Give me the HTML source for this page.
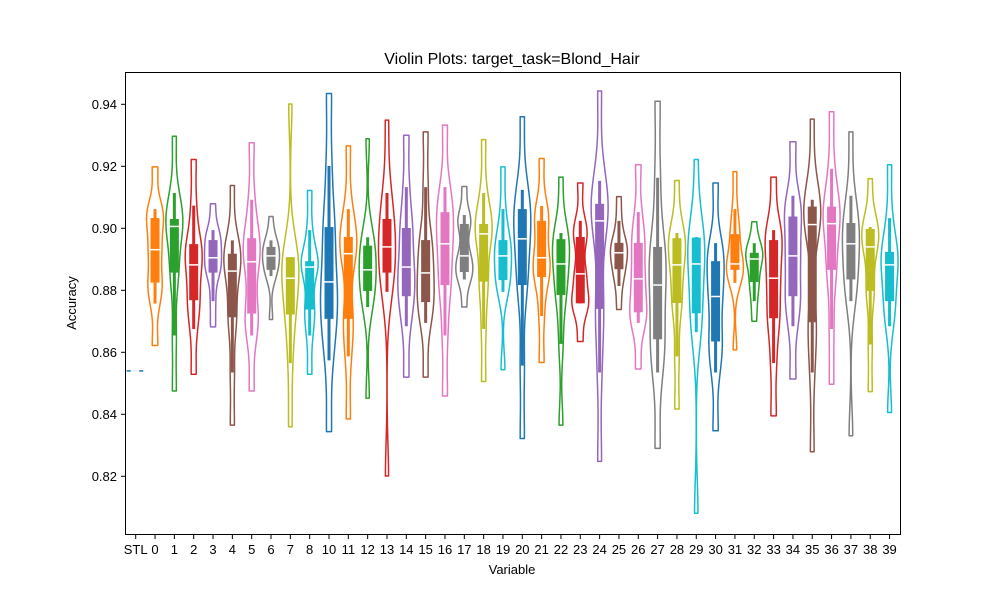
<!DOCTYPE html>
<html><head><meta charset="utf-8"><style>
body{margin:0;background:#fff}
svg{display:block;font-family:"Liberation Sans","DejaVu Sans",sans-serif}
</style></head><body>
<svg id="chart" width="1000" height="600" viewBox="0 0 1000 600">
<rect x="0" y="0" width="1000" height="600" fill="#fff"/>
<text x="512" y="64" text-anchor="middle" font-size="16" fill="#000">Violin Plots: target_task=Blond_Hair</text>
<g id="plot"></g>
<rect x="125.5" y="72.5" width="775" height="462" fill="none" stroke="#000" stroke-width="1"/>
<g id="yaxis"></g>
<g id="xaxis"></g>
<text x="0" y="0" transform="translate(76,303) rotate(-90)" text-anchor="middle" font-size="13" fill="#000">Accuracy</text>
<text x="512" y="574" text-anchor="middle" font-size="13" fill="#000">Variable</text>
</svg>
<script>
const categories = ["0","1","2","3","4","5","6","7","8","10","11","12","13","14","15","16","17","18","19","20","21","22","23","24","25","26","27","28","29","30","31","32","33","34","35","36","37","38","39"];
const stlValue = 0.854;
const tops =    [0.9198,0.9297,0.9222,0.9079,0.9138,0.9276,0.9038,0.9401,0.9122,0.9435,0.9266,0.9289,0.9349,0.9300,0.9311,0.9333,0.9135,0.9286,0.9198,0.9360,0.9225,0.9165,0.9146,0.9443,0.9102,0.9205,0.9410,0.9154,0.9222,0.9146,0.9183,0.9021,0.9165,0.9279,0.9352,0.9376,0.9311,0.9160,0.9205];
const whiskHi = [0.9062,0.9114,0.9073,0.8994,0.8961,0.9092,0.8961,0.8907,0.8994,0.9201,0.9062,0.8971,0.9114,0.9133,0.9133,0.9133,0.9043,0.9114,0.9062,0.9124,0.9072,0.8985,0.9024,0.9153,0.9024,0.9052,0.9163,0.8985,0.8972,0.8952,0.9062,0.8952,0.8994,0.9105,0.9092,0.9192,0.9105,0.9004,0.9033];
const q3s =     [0.9033,0.9030,0.8949,0.8962,0.8918,0.8968,0.8940,0.8907,0.8894,0.9004,0.8972,0.8944,0.9030,0.9001,0.8962,0.9052,0.9014,0.9014,0.8962,0.9062,0.9024,0.8965,0.8972,0.9079,0.8953,0.8953,0.8940,0.8968,0.8970,0.8894,0.8981,0.8921,0.8962,0.9038,0.9070,0.9070,0.9017,0.8998,0.8924];
const medians = [0.8931,0.9006,0.8882,0.8905,0.8862,0.8892,0.8911,0.8839,0.8875,0.8827,0.8918,0.8866,0.8940,0.8875,0.8856,0.8950,0.8911,0.8982,0.8911,0.8966,0.8905,0.8885,0.8853,0.9024,0.8921,0.8837,0.8817,0.8882,0.8885,0.8780,0.8885,0.8901,0.8839,0.8911,0.9012,0.9015,0.8950,0.8940,0.8882];
const q1s =     [0.8825,0.8857,0.8768,0.8857,0.8713,0.8725,0.8866,0.8722,0.8738,0.8708,0.8708,0.8798,0.8857,0.8781,0.8762,0.8817,0.8859,0.8828,0.8833,0.8817,0.8843,0.8785,0.8758,0.8740,0.8868,0.8729,0.8642,0.8759,0.8726,0.8635,0.8866,0.8827,0.8710,0.8781,0.8697,0.8866,0.8835,0.8798,0.8765];
const whiskLo = [0.8757,0.8654,0.8675,0.8765,0.8535,0.8654,0.8846,0.8565,0.8654,0.8574,0.8587,0.8746,0.8795,0.8684,0.8695,0.8654,0.8835,0.8675,0.8795,0.8557,0.8717,0.8627,0.8758,0.8535,0.8814,0.8695,0.8535,0.8587,0.8665,0.8535,0.8824,0.8765,0.8565,0.8684,0.8535,0.8675,0.8765,0.8625,0.8684];
const bottoms = [0.8622,0.8475,0.8529,0.8682,0.8365,0.8475,0.8706,0.8360,0.8529,0.8344,0.8385,0.8452,0.8201,0.8520,0.8520,0.8459,0.8746,0.8506,0.8544,0.8322,0.8567,0.8365,0.8635,0.8248,0.8738,0.8546,0.8290,0.8417,0.8081,0.8347,0.8608,0.8700,0.8395,0.8514,0.8279,0.8497,0.8331,0.8473,0.8406];
const yTicks = [0.82,0.84,0.86,0.88,0.90,0.92,0.94];
const palette = ["#1f77b4","#ff7f0e","#2ca02c","#d62728","#9467bd","#8c564b","#e377c2","#7f7f7f","#bcbd22","#17becf"];

const NS="http://www.w3.org/2000/svg";
function yScale(v){return 476.3-(v-0.82)/0.02*62;}
function xScale(k){return 135.7+k*19.33;}
function mk(tag,attrs,parent){const e=document.createElementNS(NS,tag);for(const a in attrs)e.setAttribute(a,attrs[a]);parent.appendChild(e);return e;}
const plot=document.getElementById('plot');
const yax=document.getElementById('yaxis');
const xax=document.getElementById('xaxis');

yTicks.forEach(t=>{
  const y=yScale(t);
  const tk=mk('line',{x1:121,x2:125.5,y1:y,y2:y,stroke:'#000','stroke-width':1},yax);
  
  
  const lb=mk('text',{x:117,y:y+4.5,'text-anchor':'end','font-size':13,fill:'#000'},yax);
  lb.textContent=t.toFixed(2);
  
  
});
const allLabels=["STL"].concat(categories);
allLabels.forEach((c,k)=>{
  const x=xScale(k);
  const tk=mk('line',{x1:x,x2:x,y1:534.5,y2:539,stroke:'#000','stroke-width':1},xax);
  
  
  const lb=mk('text',{x:x,y:554,'text-anchor':'middle','font-size':13,fill:'#000'},xax);
  lb.textContent=c;
  
  
});

// STL degenerate violin
{
  const y=yScale(stlValue),x=xScale(0);
  const g=mk('g',{},plot);
  
  
  mk('line',{x1:x-9,x2:x+9,y1:y,y2:y,stroke:'#e8f1f8','stroke-width':1.5},g);
  mk('line',{x1:x-9,x2:x-5,y1:y,y2:y,stroke:'#1f77b4','stroke-width':1.5},g);
  mk('line',{x1:x+3.5,x2:x+7.5,y1:y,y2:y,stroke:'#1f77b4','stroke-width':1.5},g);
}

categories.forEach((c,i)=>{
  const k=i+1, cx=xScale(k), col=palette[k%10];
  const top=tops[i], bot=bottoms[i];
  const pts=[bot,whiskLo[i],q1s[i],q1s[i],medians[i],medians[i],q3s[i],q3s[i],whiskHi[i],top];
  const bw=Math.max(0.004,(top-bot)*0.09);
  const N=60, dens=[];
  let mx=0;
  for(let j=0;j<=N;j++){
    const v=bot+(top-bot)*j/N;
    let d=0; pts.forEach(p=>{const z=(v-p)/bw;d+=Math.exp(-0.5*z*z);});
    dens.push([v,d]); if(d>mx)mx=d;
  }
  const W=8.5;
  let left="",right="";
  dens.forEach(([v,d],j)=>{
    const w=d/mx*W, y=yScale(v);
    left+=(j?"L":"M")+(cx-w).toFixed(2)+","+y.toFixed(2);
  });
  for(let j=N;j>=0;j--){const [v,d]=dens[j];right+="L"+(cx+d/mx*W).toFixed(2)+","+yScale(v).toFixed(2);}
  const g=mk('g',{},plot);
  
  
  const body=mk('path',{d:left+right+"Z",fill:'none',stroke:col,'stroke-width':1.5,'stroke-linejoin':'round'},g);
  
  
  const wh=mk('line',{x1:cx,x2:cx,y1:yScale(whiskHi[i]),y2:yScale(whiskLo[i]),stroke:col,'stroke-width':3},g);
  
  
  const bx=mk('rect',{x:cx-4.5,y:yScale(q3s[i]),width:9,height:Math.max(1,yScale(q1s[i])-yScale(q3s[i])),fill:col},g);
  
  
  const md=mk('line',{x1:cx-4.5,x2:cx+4.5,y1:yScale(medians[i]),y2:yScale(medians[i]),stroke:'#fff','stroke-width':1.5},g);
  
  
});
</script>
</body></html>
